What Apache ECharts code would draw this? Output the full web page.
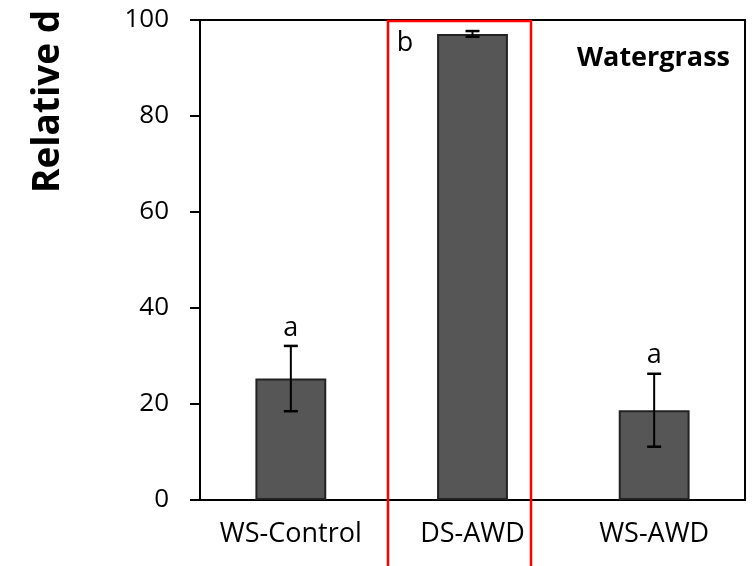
<!DOCTYPE html>
<html>
<head>
<meta charset="utf-8">
<script src="https://cdn.jsdelivr.net/npm/echarts@6/dist/echarts.min.js"></script>
<style>html,body{margin:0;padding:0;background:#fff;}#c{width:754px;height:566px;}</style>
</head>
<body>
<div id="c"></div>
<script>
const categories = ['WS-Control', 'DS-AWD', 'WS-AWD'];
const means = [25.3, 97.1, 18.7];
const errors = [6.8, 0.6, 7.6];
const letters = ['a', 'b', 'a'];
const yTicks = [0, 20, 40, 60, 80, 100];
const yTitle = 'Relative d';
const panelTitle = 'Watergrass';

const chart = echarts.init(document.getElementById('c'));
const font = '"Open Sans", "Liberation Sans", sans-serif';

chart.setOption({
  animation: false,
  backgroundColor: '#fff',
  grid: { left: 200, right: 9, top: 20, bottom: 66, show: true, borderColor: '#000', borderWidth: 2, backgroundColor: 'transparent' },
  xAxis: {
    type: 'category',
    data: categories,
    axisLine: { lineStyle: { color: '#000', width: 2 } },
    axisTick: { show: false },
    axisLabel: { color: '#000', fontFamily: font, fontSize: 27, margin: 21, interval: 0, hideOverlap: false }
  },
  yAxis: {
    type: 'value',
    min: yTicks[0], max: yTicks[yTicks.length - 1], interval: 20,
    splitLine: { show: false },
    axisLine: { show: true, lineStyle: { color: '#000', width: 2 } },
    axisTick: { show: true, length: 10, lineStyle: { color: '#000', width: 2 } },
    axisLabel: { color: '#000', fontFamily: font, fontSize: 26, margin: 31 }
  },
  graphic: [
    { type: 'text', x: 48, y: 193, rotation: Math.PI / 2,
      style: { text: yTitle, font: 'bold 37px ' + font, fill: '#000', textAlign: 'left', textVerticalAlign: 'middle' } },
    { type: 'text', x: 730, y: 58,
      style: { text: panelTitle, font: 'bold 27px ' + font, fill: '#000', textAlign: 'right', textVerticalAlign: 'middle' } },
    { type: 'rect', z: 100, shape: { x: 388, y: 21, width: 143, height: 560 },
      style: { fill: 'none', stroke: '#ff0000', lineWidth: 2.5 } }
  ],
  series: [
    {
      type: 'bar',
      data: means,
      barWidth: '39%',
      itemStyle: { color: '#565656', borderColor: '#222', borderWidth: 2 }
    },
    {
      type: 'custom',
      data: means.map((m, i) => [i, m, errors[i]]),
      z: 10,
      renderItem: function (params, api) {
        const i = api.value(0), m = api.value(1), e = api.value(2);
        const top = api.coord([i, m + e]);
        const bot = api.coord([i, m - e]);
        const half = 7;
        const children = [
          { type: 'line', shape: { x1: top[0], y1: top[1], x2: bot[0], y2: bot[1] }, style: { stroke: '#000', lineWidth: 2 } },
          { type: 'line', shape: { x1: top[0] - half, y1: top[1], x2: top[0] + half, y2: top[1] }, style: { stroke: '#000', lineWidth: 2.5 } },
          { type: 'line', shape: { x1: bot[0] - half, y1: bot[1], x2: bot[0] + half, y2: bot[1] }, style: { stroke: '#000', lineWidth: 2.5 } }
        ];
        const bw = api.size([1, 0])[0] * 0.39;
        let tx = top[0], ty = top[1] - 18;
        if (m + e > 90) { tx = top[0] - bw / 2 - 32; ty = top[1] + 12; }
        children.push({ type: 'text', style: { text: letters[params.dataIndex], x: tx, y: ty, font: '27px ' + font, fill: '#000', textAlign: 'center', textVerticalAlign: 'middle' } });
        return { type: 'group', children: children };
      }
    }
  ]
});
</script>
</body>
</html>
